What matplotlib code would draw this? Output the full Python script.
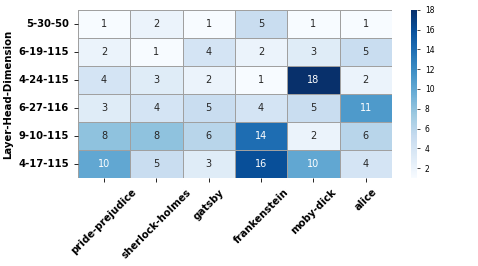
import numpy as np
import matplotlib
matplotlib.use('Agg')
from matplotlib import pyplot as plt
import seaborn as sns

# data
rows = ['5-30-50', '6-19-115', '4-24-115', '6-27-116', '9-10-115', '4-17-115']
cols = ['pride-prejudice', 'sherlock-holmes', 'gatsby', 'frankenstein', 'moby-dick', 'alice']
counts = np.array([
    [1, 2, 1, 5, 1, 1],
    [2, 1, 4, 2, 3, 5],
    [4, 3, 2, 1, 18, 2],
    [3, 4, 5, 4, 5, 11],
    [8, 8, 6, 14, 2, 6],
    [10, 5, 3, 16, 10, 4],
])

fig = plt.figure(figsize=(4.78, 2.66), dpi=100)
ax = fig.add_axes([0.163, 0.331, 0.657, 0.632])
cax = fig.add_axes([0.86, 0.331, 0.013, 0.632])

sns.heatmap(counts, ax=ax, cbar_ax=cax, cmap='Blues', annot=True, fmt='d',
            annot_kws={'size': 7}, linewidths=0.6, linecolor='#a0a0a0',
            xticklabels=cols, yticklabels=rows)

ax.set_ylabel('Layer-Head-Dimension', fontsize=7.3, fontweight='bold')
ax.set_xticklabels(cols, rotation=45, fontsize=7.3, fontweight='bold')
ax.set_yticklabels(rows, rotation=0, fontsize=7.2, fontweight='bold')
ax.tick_params(length=3, width=0.6)
cax.tick_params(labelsize=5.5, length=2, width=0.5)
cax.set_yticks([2, 4, 6, 8, 10, 12, 14, 16, 18])

fig.savefig('out.png', dpi=100)
